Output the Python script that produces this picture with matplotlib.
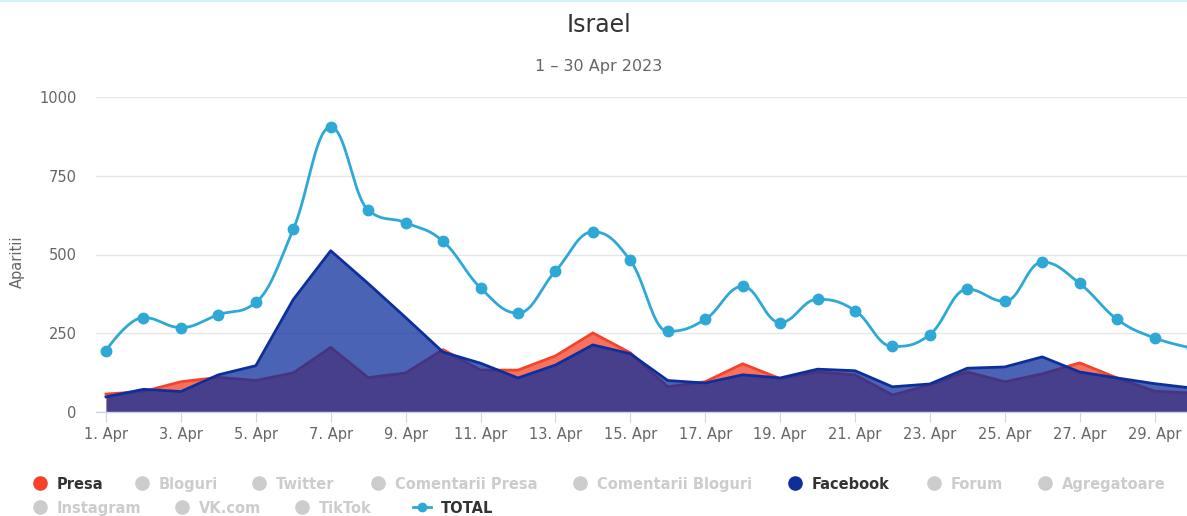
import numpy as np
import matplotlib
matplotlib.use("Agg")
import matplotlib.pyplot as plt
from matplotlib.lines import Line2D

# data (1 - 30 Apr 2023)
days = list(range(1, 31))
total = [195, 300, 268, 309, 348, 580, 905, 641, 601, 542, 394, 314, 447, 572,
         481, 256, 294, 399, 284, 358, 322, 208, 246, 390, 351, 476, 408, 294,
         235, 203]
presa = [57, 65, 96, 110, 100, 124, 205, 109, 124, 198, 133, 133, 178, 251,
         188, 80, 96, 153, 106, 127, 118, 54, 86, 127, 96, 121, 156, 108, 66, 60]
facebook = [48, 72, 65, 118, 147, 357, 512, 408, 300, 190, 155, 108, 149, 213,
            185, 100, 92, 118, 108, 136, 131, 80, 89, 139, 143, 175, 127, 108,
            90, 76]
tick_days = list(range(1, 30, 2))
tick_labels = [f"{d}. Apr" for d in tick_days]
y_ticks = [0, 250, 500, 750, 1000]

legend_row1 = ["Presa", "Bloguri", "Twitter", "Comentarii Presa",
               "Comentarii Bloguri", "Facebook", "Forum", "Agregatoare"]
legend_row2 = ["Instagram", "VK.com", "TikTok", "TOTAL"]

RED = "#f4432a"
NAVY = "#0d2f9c"
CYAN = "#2ea8d5"
GREY = "#cccccc"

W, H = 1187, 516


def spline_path(xs, ys, smoothing=1.5, n=40):
    """Highcharts-style spline through the points, sampled as bezier curves."""
    xs = np.asarray(xs, float)
    ys = np.asarray(ys, float)
    m = len(xs)
    lcx, lcy = xs.copy(), ys.copy()
    rcx, rcy = xs.copy(), ys.copy()
    den = smoothing + 1
    for i in range(1, m - 1):
        x, y = xs[i], ys[i]
        lx, ly, nx, ny = xs[i - 1], ys[i - 1], xs[i + 1], ys[i + 1]
        a_x = (smoothing * x + lx) / den
        a_y = (smoothing * y + ly) / den
        b_x = (smoothing * x + nx) / den
        b_y = (smoothing * y + ny) / den
        corr = 0.0
        if b_x != a_x:
            corr = (b_y - a_y) * (b_x - x) / (b_x - a_x) + y - b_y
        a_y += corr
        b_y += corr
        if a_y > ly and a_y > y:
            a_y = max(ly, y)
            b_y = 2 * y - a_y
        elif a_y < ly and a_y < y:
            a_y = min(ly, y)
            b_y = 2 * y - a_y
        if b_y > ny and b_y > y:
            b_y = max(ny, y)
            a_y = 2 * y - b_y
        elif b_y < ny and b_y < y:
            b_y = min(ny, y)
            a_y = 2 * y - b_y
        lcx[i], lcy[i], rcx[i], rcy[i] = a_x, a_y, b_x, b_y
    t = np.linspace(0, 1, n)[:, None]
    out = [np.array([[xs[0], ys[0]]])]
    for i in range(1, m):
        p0 = np.array([xs[i - 1], ys[i - 1]])
        p1 = np.array([rcx[i - 1], rcy[i - 1]])
        p2 = np.array([lcx[i], lcy[i]])
        p3 = np.array([xs[i], ys[i]])
        seg = ((1 - t) ** 3 * p0 + 3 * (1 - t) ** 2 * t * p1
               + 3 * (1 - t) * t ** 2 * p2 + t ** 3 * p3)
        out.append(seg[1:])
    pts = np.vstack(out)
    return pts[:, 0], pts[:, 1]


fig = plt.figure(figsize=(W / 100, H / 100), dpi=100)
px = 1.0 / W
py = 1.0 / H

left, right, top, bottom = 96, 1187, 97, 412
ax = fig.add_axes([left * px, 1 - bottom * py, (right - left) * px,
                   (bottom - top) * py])

ax.set_xlim(1 - 10 / 37.45, 1 + (right - 106) / 37.45)
ax.set_ylim(0, 1000)

# areas: Presa under Facebook, both at 0.75 fill opacity
ax.fill_between(days, 0, presa, color=RED, alpha=0.75, lw=0, zorder=2)
ax.plot(days, presa, color=RED, lw=2, zorder=2.1)
ax.fill_between(days, 0, facebook, color=NAVY, alpha=0.75, lw=0, zorder=3)
ax.plot(days, facebook, color=NAVY, lw=2, zorder=3.1)

sx, sy = spline_path(days, total)
ax.plot(sx, sy, color=CYAN, lw=2, zorder=4, solid_capstyle="round")
ax.plot(days, total, ls="", marker="o", ms=7.5, color=CYAN, mec=CYAN, zorder=5)

ax.set_yticks(y_ticks)
ax.set_yticklabels([str(v) for v in y_ticks])
ax.set_xticks(tick_days)
ax.set_xticklabels(tick_labels)
ax.grid(axis="y", color="#e6e6e6", lw=1)
ax.set_axisbelow(True)
for s in ["top", "right", "left"]:
    ax.spines[s].set_visible(False)
ax.spines["bottom"].set_color("#ccd6eb")
ax.spines["bottom"].set_linewidth(1)
ax.spines["bottom"].set_zorder(6)
ax.tick_params(axis="y", length=0, pad=14, labelsize=10.5, labelcolor="#666666")
ax.tick_params(axis="x", length=7, width=0.8, color="#ccd6eb", pad=4,
               labelsize=10.5, labelcolor="#666666")

fig.text(17 * px, 1 - 262 * py, "Aparitii", rotation=90, ha="center",
         va="center", fontsize=10.5, color="#666666")
fig.text(599 * px, 1 - 25 * py, "Israel", ha="center", va="center",
         fontsize=17, color="#333333")
fig.text(599 * px, 1 - 67 * py, "1 \u2013 30 Apr 2023", ha="center",
         va="center", fontsize=11.5, color="#666666")

# thin border at the top of the frame
fig.add_artist(Line2D([0, 1], [1 - 1 * py, 1 - 1 * py], transform=fig.transFigure,
                      color="#d4f1f9", lw=1.5))

# legend, laid out like the source
row1_x = [40, 142, 259, 378, 580, 795, 934, 1045]
row2_x = [40, 182, 302, 422]
active = {"Presa": RED, "Facebook": NAVY}


def legend_item(name, xc, yc):
    if name == "TOTAL":
        fig.add_artist(Line2D([(xc - 9) * px, (xc + 9) * px], [1 - yc * py] * 2,
                              transform=fig.transFigure, color=CYAN, lw=2))
        fig.add_artist(Line2D([xc * px], [1 - yc * py], transform=fig.transFigure,
                              marker="o", ms=6, color=CYAN, ls=""))
        fig.text((xc + 19) * px, 1 - yc * py, name, ha="left",
                 va="center_baseline", fontsize=10.5, fontweight="bold",
                 color="#333333")
        return
    col = active.get(name, GREY)
    fig.add_artist(Line2D([xc * px], [1 - yc * py], transform=fig.transFigure,
                          marker="o", ms=9.5, color=col, ls=""))
    fig.text((xc + 17) * px, 1 - yc * py, name, ha="left",
             va="center_baseline", fontsize=10.5, fontweight="bold",
             color="#333333" if name in active else GREY)


for name, xc in zip(legend_row1, row1_x):
    legend_item(name, xc, 483)
for name, xc in zip(legend_row2, row2_x):
    legend_item(name, xc, 507)

fig.savefig("out.png", dpi=100)
